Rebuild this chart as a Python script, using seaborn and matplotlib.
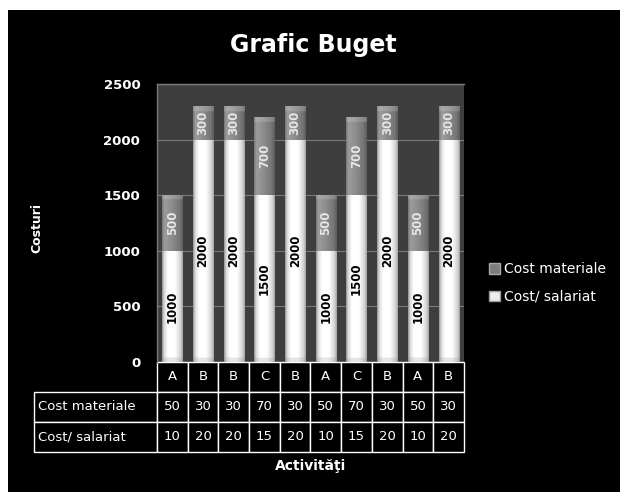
import numpy as np
import pandas as pd
import matplotlib
matplotlib.use("Agg")
import matplotlib.pyplot as plt
import seaborn as sns
from matplotlib.patches import Patch, Rectangle
from matplotlib.colors import LinearSegmentedColormap

# Budget data per activity
activitati = ["A", "B", "B", "C", "B", "A", "C", "B", "A", "B"]
cost_salariat = [1000, 2000, 2000, 1500, 2000, 1000, 1500, 2000, 1000, 2000]
cost_materiale = [500, 300, 300, 700, 300, 500, 700, 300, 500, 300]
tabel_materiale = [50, 30, 30, 70, 30, 50, 70, 30, 50, 30]
tabel_salariat = [10, 20, 20, 15, 20, 10, 15, 20, 10, 20]
serii = ["Cost materiale", "Cost/ salariat"]
y_ticks = [0, 500, 1000, 1500, 2000, 2500]

sns.set_theme(style="dark")
plt.rcParams["font.family"] = ["DejaVu Sans"]

df = pd.DataFrame({
    "nr": [str(i) for i in range(len(activitati))],
    "salariat": cost_salariat,
    "materiale": cost_materiale,
})
df["total"] = df["salariat"] + df["materiale"]

W, H = 620, 492
fig = plt.figure(figsize=(W / 100, H / 100), dpi=100, facecolor="white")
fig.add_artist(Rectangle((8 / W, 0), 1 - 8 / W, 1 - 10 / H, transform=fig.transFigure,
                         facecolor="black", edgecolor="none", zorder=0))

ax = fig.add_axes([157 / W, 130 / H, 307 / W, 278 / H])
ax.set_facecolor("#3e3e3e")

bar_w = 0.66
# stacked bars: totals first (material part shows on top), salary part drawn over them
sns.barplot(data=df, x="nr", y="total", color="#858585", width=bar_w, saturation=1,
            errorbar=None, ax=ax, zorder=2, edgecolor="none", linewidth=0)
sns.barplot(data=df, x="nr", y="salariat", color="#f4f4f4", width=bar_w, saturation=1,
            errorbar=None, ax=ax, zorder=3, edgecolor="none", linewidth=0)
ax.set_xlim(-0.5, len(activitati) - 0.5)
ax.set_ylim(0, 2500)

cont_total, cont_sal = ax.containers[0], ax.containers[1]

grey_cmap = LinearSegmentedColormap.from_list(
    "grey_bar", [(0, "#747474"), (0.12, "#9c9c9c"), (0.45, "#8e8e8e"), (0.85, "#747474"), (1, "#5a5a5a")])
white_cmap = LinearSegmentedColormap.from_list(
    "white_bar", [(0, "#8e8e8e"), (0.1, "#d8d8d8"), (0.28, "#ffffff"), (0.62, "#ffffff"),
                  (0.88, "#d4d4d4"), (1, "#a0a0a0")])


def shade(patch, cmap, z, top_tint=None, bottom_tint=None, bevel_px=4, mix=0.22):
    """Fill a bar with a horizontal cylinder-like gradient and a small bevel band."""
    x0, y0 = patch.get_x(), patch.get_y()
    w, h = patch.get_width(), patch.get_height()
    px_h = abs(ax.transData.transform((0, y0 + h))[1] - ax.transData.transform((0, y0))[1])
    rows = 200
    row_cols = cmap(np.linspace(0, 1, 256))[:, :3]
    img = np.repeat(row_cols[None, :, :], rows, axis=0)
    frac = np.linspace(0, 1, rows)[:, None, None]  # 0 = top of bar
    band = min(0.45, bevel_px / max(px_h, 1))
    if top_tint is not None:
        mask = (frac < band).astype(float) * mix
        img = img * (1 - mask) + np.array(top_tint)[None, None, :] * mask
    if bottom_tint is not None:
        mask = (frac > 1 - band).astype(float) * mix
        img = img * (1 - mask) + np.array(bottom_tint)[None, None, :] * mask
    im = ax.imshow(img, extent=[x0, x0 + w, y0, y0 + h], aspect="auto",
                   zorder=z, interpolation="bilinear")
    im.set_clip_path(patch)


for p in cont_total:
    shade(p, grey_cmap, 2.5, top_tint=(0.85, 0.85, 0.85))
for p in cont_sal:
    shade(p, white_cmap, 3.5, bottom_tint=(0.55, 0.55, 0.55))

# value labels
ax.bar_label(cont_sal, labels=[str(v) for v in cost_salariat], label_type="center",
             rotation=90, fontsize=8.5, fontweight="bold", color="black", zorder=10)
for p, sal, mat in zip(cont_total, cost_salariat, cost_materiale):
    ax.text(p.get_x() + p.get_width() / 2, sal + mat / 2, str(mat), rotation=90,
            ha="center", va="center", fontsize=8.5, fontweight="bold", color="#e6e6e6", zorder=10)

ax.set_xlim(-0.5, len(activitati) - 0.5)
ax.set_ylim(0, 2500)
ax.set_yticks(y_ticks)
ax.set_xticks([])
ax.set_xlabel("")
ax.set_ylabel("")
ax.yaxis.grid(True, color="#7a7a7a", linewidth=0.8)
ax.set_axisbelow(True)
ax.tick_params(axis="y", colors="white", labelsize=9.5, length=0, pad=12)
for lbl in ax.get_yticklabels():
    lbl.set_fontweight("bold")
for side in ["right", "bottom"]:
    ax.spines[side].set_visible(False)
for side in ["left", "top"]:
    ax.spines[side].set_visible(True)
    ax.spines[side].set_color("#7a7a7a")
    ax.spines[side].set_linewidth(1)

# data table under the bars; the bbox covers the value columns, row labels sit to their left
lab_w = (157 - 34) / 307
tbl_h = (452 - 362) / 278
tbl = ax.table(cellText=[[str(v) for v in tabel_materiale], [str(v) for v in tabel_salariat]],
               colLabels=activitati, cellLoc="center",
               colWidths=[1 / len(activitati)] * len(activitati),
               bbox=[0, -tbl_h, 1, tbl_h])
row_h = tbl[1, 0].get_height()
for i, name in enumerate(serii):
    tbl.add_cell(i + 1, -1, width=lab_w, height=row_h, text=name, loc="left")
tbl.auto_set_font_size(False)
tbl.set_fontsize(9.5)
tbl.set_clip_on(False)
for (r, c), cell in tbl.get_celld().items():
    cell.set_facecolor("black")
    cell.set_edgecolor("white")
    cell.set_linewidth(1)
    cell.get_text().set_color("white")
    cell.get_text().set_fontsize(9.5)
    if c == -1:
        cell.PAD = 0.03

fig.text(313 / W, 1 - 45 / H, "Grafic Buget", ha="center", va="center",
         fontsize=17, fontweight="bold", color="white")
fig.text(37 / W, 1 - 228 / H, "Costuri", rotation=90, ha="center", va="center",
         fontsize=9, fontweight="bold", color="white")
fig.text(311 / W, 1 - 466 / H, "Activităţi", ha="center", va="center",
         fontsize=10, fontweight="bold", color="white")

handles = [Patch(facecolor="#7c7c7c", edgecolor="#a8a8a8"),
           Patch(facecolor="#ececec", edgecolor="#9a9a9a")]
fig.legend(handles, serii, loc="center left", bbox_to_anchor=(483 / W, 1 - 283 / H),
           frameon=False, labelcolor="white", fontsize=10, handlelength=0.8,
           handleheight=0.8, handletextpad=0.3, labelspacing=1.0, borderaxespad=0)

fig.savefig("out.png", dpi=100, facecolor="white")
